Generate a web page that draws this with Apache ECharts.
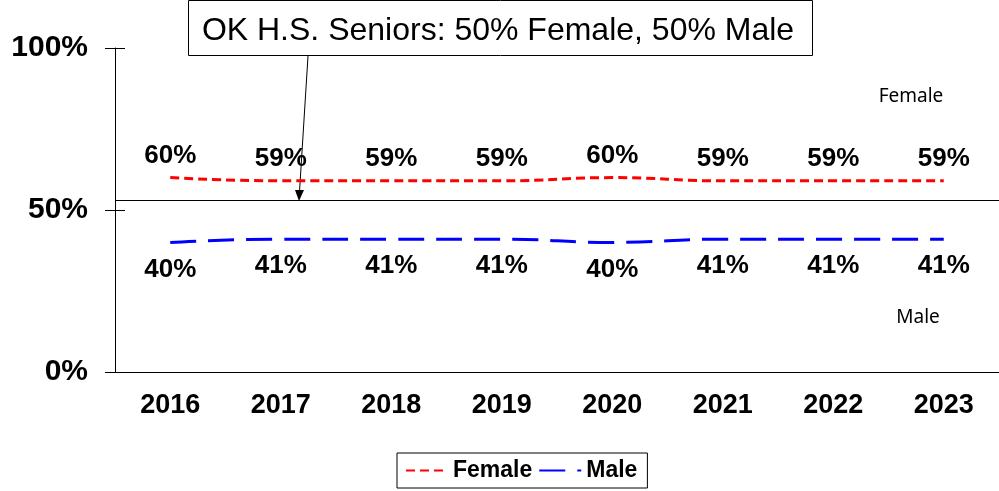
<!DOCTYPE html>
<html>
<head>
<meta charset="utf-8">
<script src="https://cdn.jsdelivr.net/npm/echarts@6/dist/echarts.min.js"></script>
<style>
  html, body { margin: 0; padding: 0; background: #fff; }
  #chart { width: 999px; height: 491px; }
</style>
</head>
<body>
<div id="chart"></div>
<script>
// data
var years = ['2016', '2017', '2018', '2019', '2020', '2021', '2022', '2023']
var female = [60, 59, 59, 59, 60, 59, 59, 59]
var male = [40, 41, 41, 41, 40, 41, 41, 41]
var yTicks = [0, 50, 100]
var refLine = 53  // the "50%" reference line sits a bit above 50 in the source
var noteText = 'OK H.S. Seniors: 50% Female, 50% Male'

var font = 'Arial, "Liberation Sans", sans-serif'

var myChart = echarts.init(document.getElementById('chart'))

var valueLabel = function (pos, dist) {
    return {
        show: true,
        position: pos,
        distance: dist,
        formatter: '{c}%',
        fontFamily: font,
        fontWeight: 'bold',
        fontSize: 26,
        color: '#000'
    }
}

var option = {
    backgroundColor: '#fff',
    animation: false,
    grid: {
        left: 115,
        right: -9,
        top: 48,
        bottom: 119
    },
    legend: {
        left: 397,
        top: 453,
        padding: [6, 10, 6, 8],
        itemGap: 6,
        itemWidth: 42,
        itemHeight: 14,
        borderColor: '#000',
        borderWidth: 1,
        data: ['Female', 'Male'],
        textStyle: {
            fontFamily: font,
            fontWeight: 'bold',
            fontSize: 23,
            color: '#000'
        }
    },
    xAxis: {
        type: 'category',
        data: years,
        boundaryGap: true,
        axisLine: { lineStyle: { color: '#000', width: 1 } },
        axisTick: { length: 8, lineStyle: { color: '#000' } },
        axisLabel: {
            margin: 20,
            fontFamily: font,
            fontWeight: 'bold',
            fontSize: 27,
            color: '#000'
        },
        splitLine: { show: false }
    },
    yAxis: [
        {
            type: 'value',
            min: yTicks[0],
            max: yTicks[yTicks.length - 1],
            interval: 50,
            axisLine: { show: true, lineStyle: { color: '#000', width: 1 } },
            axisTick: { show: true, length: 10, lineStyle: { color: '#000' } },
            axisLabel: {
                margin: 27,
                formatter: '{value}%',
                fontFamily: font,
                fontWeight: 'bold',
                fontSize: 30,
                color: '#000'
            },
            splitLine: { show: false }
        },
        {
            type: 'value',
            position: 'left',
            min: yTicks[0],
            max: yTicks[yTicks.length - 1],
            interval: 50,
            axisLine: { show: false },
            axisTick: { show: true, inside: true, length: 10, lineStyle: { color: '#000' } },
            axisLabel: { show: false },
            splitLine: { show: false }
        }
    ],
    series: [
        {
            name: 'Female',
            type: 'line',
            data: female,
            smooth: true,
            symbol: 'circle',
            symbolSize: 2,
            itemStyle: { color: 'rgba(0,0,0,0)' },
            lineStyle: { color: '#ff0000', width: 3, type: [9, 5] },
            label: valueLabel('top', 8),
            markLine: {
                silent: true,
                symbol: ['none', 'none'],
                label: { show: false },
                lineStyle: { color: '#000', width: 1, type: 'solid' },
                data: [{ yAxis: refLine }]
            }
        },
        {
            name: 'Male',
            type: 'line',
            data: male,
            smooth: true,
            symbol: 'circle',
            symbolSize: 2,
            itemStyle: { color: 'rgba(0,0,0,0)' },
            lineStyle: { color: '#0000ff', width: 3, type: [26, 12] },
            label: valueLabel('bottom', 13)
        }
    ],
    graphic: [
        {
            type: 'rect',
            shape: { x: 188.5, y: 0.5, width: 624, height: 55 },
            style: { fill: '#fff', stroke: '#000', lineWidth: 1 }
        },
        {
            type: 'text',
            x: 498,
            y: 31,
            style: {
                text: noteText,
                fontFamily: font,
                fontSize: 32,
                fill: '#000',
                align: 'center',
                verticalAlign: 'middle'
            }
        },
        {
            type: 'line',
            shape: { x1: 308, y1: 56, x2: 299.6, y2: 190 },
            style: { stroke: '#000', lineWidth: 1 }
        },
        {
            type: 'polygon',
            shape: { points: [[295, 190], [304, 190], [299, 201]] },
            style: { fill: '#000' }
        },
        {
            type: 'text',
            x: 911,
            y: 97,
            style: {
                text: 'Female',
                fontFamily: '"Noto Sans", sans-serif',
                fontSize: 19,
                fill: '#000',
                align: 'center',
                verticalAlign: 'middle'
            }
        },
        {
            type: 'text',
            x: 918,
            y: 318,
            style: {
                text: 'Male',
                fontFamily: '"Noto Sans", sans-serif',
                fontSize: 19,
                fill: '#000',
                align: 'center',
                verticalAlign: 'middle'
            }
        }
    ]
}

myChart.setOption(option)
</script>
</body>
</html>
